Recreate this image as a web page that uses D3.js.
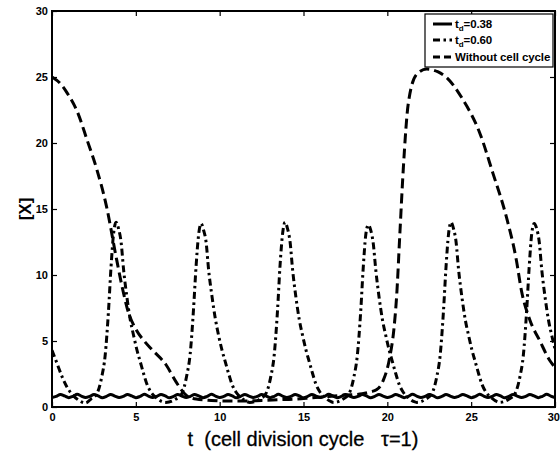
<!DOCTYPE html>
<html>
<head>
<meta charset="utf-8">
<script src="https://cdn.jsdelivr.net/npm/d3@7"></script>
<style>
  html, body { margin: 0; padding: 0; background: #fff; }
  svg { display: block; }
</style>
</head>
<body>
<svg id="chart" width="560" height="451"></svg>
<script>
// ---------------- data ----------------
const xTicks = [0, 5, 10, 15, 20, 25, 30];
const yTicks = [0, 5, 10, 15, 20, 25, 30];
const legendLabels = ["t_d=0.38", "t_d=0.60", "Without cell cycle"];

// t_d = 0.38 (solid), sampled every 0.25
const solidT = d3.range(0, 30.001, 0.25);
const solidV = [
  0.72,0.80,0.95,0.84, 0.71,0.81,0.96,0.83, 0.72,0.80,0.94,0.84, 0.70,0.81,0.95,0.83,
  0.72,0.80,0.95,0.84, 0.71,0.80,0.96,0.83, 0.72,0.81,0.95,0.84, 0.70,0.80,0.94,0.83,
  0.72,0.81,0.95,0.84, 0.71,0.80,0.96,0.83, 0.72,0.80,0.95,0.84, 0.70,0.81,0.95,0.83,
  0.72,0.80,0.94,0.84, 0.71,0.81,0.96,0.83, 0.72,0.80,0.95,0.84, 0.70,0.80,0.95,0.83,
  0.72,0.81,0.96,0.84, 0.71,0.80,0.95,0.83, 0.72,0.80,0.94,0.84, 0.70,0.81,0.95,0.83,
  0.72,0.80,0.95,0.84, 0.71,0.81,0.96,0.83, 0.72,0.80,0.95,0.84, 0.70,0.80,0.94,0.83,
  0.72,0.81,0.95,0.84, 0.71,0.80,0.96,0.83, 0.72,0.80,0.95,0.84, 0.70,0.81,0.95,0.83,
  0.72,0.80,0.95,0.84, 0.71,0.81,0.96,0.83, 0.72
];

// t_d = 0.60 (dash-dot)
const dashDotT = [
  0, 0.3, 0.6, 0.9, 1.2, 1.55, 2.0,
  2.32, 2.67, 2.97, 3.17, 3.37, 3.52, 3.67, 3.82, 3.97, 4.12, 4.27, 4.47, 4.67, 4.87, 5.07, 5.27, 5.47, 5.67, 5.92, 6.22, 6.57,
  6.79, 7.39, 7.74, 8.04, 8.24, 8.44, 8.59, 8.74, 8.89, 9.04, 9.19, 9.34, 9.54, 9.74, 9.94, 10.14, 10.34, 10.54, 10.74, 10.99, 11.29, 11.64,
  11.8, 12.4, 12.75, 13.05, 13.25, 13.45, 13.6, 13.75, 13.9, 14.05, 14.2, 14.35, 14.55, 14.75, 14.95, 15.15, 15.35, 15.55, 15.75, 16.0, 16.3, 16.65,
  16.8, 17.36, 17.71, 18.01, 18.21, 18.41, 18.56, 18.71, 18.86, 19.01, 19.16, 19.31, 19.51, 19.71, 19.91, 20.11, 20.31, 20.51, 20.71, 20.96, 21.26, 21.6,
  21.75, 22.3, 22.65, 22.95, 23.15, 23.35, 23.5, 23.65, 23.8, 23.95, 24.1, 24.25, 24.45, 24.65, 24.85, 25.05, 25.25, 25.45, 25.65, 25.9, 26.2, 26.55,
  26.7, 27.26, 27.61, 27.91, 28.11, 28.31, 28.46, 28.61, 28.76, 28.91, 29.06, 29.21, 29.41, 29.61, 29.81, 30.0
];
const dashDotV = [
  4.3, 3.3, 2.3, 1.5, 0.95, 0.55, 0.3,
  0.6, 1.0, 2.3, 3.9, 7.3, 10.6, 13.1, 14.0, 13.5, 12.5, 10.4, 8.3, 6.6, 5.4, 4.3, 3.4, 2.5, 1.7, 1.1, 0.7, 0.4,
  0.35, 0.6, 1.0, 2.4, 4.0, 7.4, 10.6, 13.0, 13.9, 13.4, 12.5, 10.4, 8.4, 6.7, 5.4, 4.3, 3.4, 2.5, 1.7, 1.1, 0.7, 0.4,
  0.35, 0.6, 1.0, 2.3, 3.9, 7.3, 10.7, 13.1, 14.0, 13.5, 12.5, 10.4, 8.3, 6.6, 5.4, 4.3, 3.4, 2.5, 1.7, 1.1, 0.7, 0.4,
  0.35, 0.6, 1.0, 2.3, 3.9, 7.2, 10.5, 13.0, 13.8, 13.4, 12.4, 10.4, 8.3, 6.6, 5.4, 4.3, 3.4, 2.5, 1.7, 1.1, 0.7, 0.4,
  0.35, 0.6, 1.0, 2.3, 3.9, 7.3, 10.6, 13.1, 14.0, 13.5, 12.5, 10.4, 8.3, 6.6, 5.4, 4.3, 3.4, 2.5, 1.7, 1.1, 0.7, 0.4,
  0.35, 0.6, 1.0, 2.3, 3.9, 7.3, 10.6, 13.1, 13.9, 13.5, 12.5, 10.4, 8.3, 6.6, 5.4, 4.4
];

// without cell cycle (dashed)
const dashedT = [
  0, 0.5, 0.9, 1.5, 2.1, 2.65, 3.25, 3.85, 4.2, 4.55, 5.0, 5.5, 6.0, 6.8, 7.4, 8.0, 8.6,
  9.5, 10.5, 11.5, 12.5, 13.5, 14.5, 15.5, 16.5, 17.5, 18.5, 19.0, 19.35, 19.75, 20.15, 20.4,
  20.55, 20.75, 20.95, 21.25, 21.75, 22.35, 23.0, 23.5, 24.5, 25.5, 26.3, 27.1, 27.7, 28.0,
  28.5, 29.1, 29.7, 30.0
];
const dashedV = [
  25.0, 24.5, 23.8, 22.4, 20.2, 18.1, 15.2, 11.2, 9.0, 7.2, 5.9, 5.0, 4.3, 3.2, 1.9, 0.9, 0.6,
  0.5, 0.45, 0.45, 0.5, 0.55, 0.6, 0.7, 0.8, 0.9, 1.0, 1.15, 1.3, 2.0, 3.8, 6.0,
  8.3, 13.2, 18.0, 23.0, 25.2, 25.6, 25.4, 25.0, 23.3, 20.8, 17.7, 14.4, 11.1, 8.8,
  6.6, 5.0, 3.5, 3.0
];

// ---------------- chart ----------------
const svg = d3.select("#chart");
const L = 52, R = 555, T = 11, B = 407;
const x = d3.scaleLinear().domain([0, 30]).range([L, R]);
const y = d3.scaleLinear().domain([0, 30]).range([B, T]);
const FONT = "'Liberation Sans', Arial, Helvetica, sans-serif";

svg.append("defs").append("clipPath").attr("id", "plotclip")
  .append("rect").attr("x", L).attr("y", T).attr("width", R - L).attr("height", B - T);

const toPts = (ts, vs) => ts.map((t, i) => [t, vs[i]]);

const plot = svg.append("g").attr("clip-path", "url(#plotclip)");

plot.append("path")
  .datum(toPts(solidT, solidV))
  .attr("fill", "none").attr("stroke", "#000").attr("stroke-width", 3)
  .attr("stroke-linejoin", "round")
  .attr("d", d3.line().x(d => x(d[0])).y(d => y(d[1])).curve(d3.curveCardinal));

plot.append("path")
  .datum(toPts(dashDotT, dashDotV))
  .attr("fill", "none").attr("stroke", "#000").attr("stroke-width", 3)
  .attr("stroke-dasharray", "7,3.5,2.5,3.5")
  .attr("d", d3.line().x(d => x(d[0])).y(d => y(d[1])).curve(d3.curveMonotoneX));

plot.append("path")
  .datum(toPts(dashedT, dashedV))
  .attr("fill", "none").attr("stroke", "#000").attr("stroke-width", 3)
  .attr("stroke-dasharray", "10,5")
  .attr("d", d3.line().x(d => x(d[0])).y(d => y(d[1])).curve(d3.curveMonotoneX));

// axes
const styleAxis = g => {
  g.select(".domain").remove();
  g.selectAll("line").attr("stroke", "#000").attr("stroke-width", 1.2);
  g.selectAll("text").attr("font-family", FONT).attr("font-weight", "bold")
    .attr("font-size", 11).attr("fill", "#000");
};
svg.append("g").attr("transform", `translate(0,${B})`)
  .call(d3.axisBottom(x).tickValues(xTicks).tickSizeInner(-5).tickSizeOuter(0).tickPadding(6))
  .call(styleAxis)
  .call(g => g.selectAll(".tick text").filter(d => d === 30).attr("text-anchor", "end").attr("dx", 4.5));
svg.append("g").attr("transform", `translate(0,${T})`)
  .call(d3.axisTop(x).tickValues(xTicks).tickSizeInner(-5).tickSizeOuter(0).tickFormat(""))
  .call(styleAxis);
svg.append("g").attr("transform", `translate(${L},0)`)
  .call(d3.axisLeft(y).tickValues(yTicks).tickSizeInner(-5).tickSizeOuter(0).tickPadding(4))
  .call(styleAxis);
svg.append("g").attr("transform", `translate(${R},0)`)
  .call(d3.axisRight(y).tickValues(yTicks).tickSizeInner(-5).tickSizeOuter(0).tickFormat(""))
  .call(styleAxis);

svg.append("rect").attr("x", L).attr("y", T).attr("width", R - L).attr("height", B - T)
  .attr("fill", "none").attr("stroke", "#000").attr("stroke-width", 2);

// axis labels
svg.append("text").attr("x", 303).attr("y", 446).attr("text-anchor", "middle")
  .attr("font-family", FONT).attr("font-size", 20).attr("fill", "#000")
  .attr("stroke", "#000").attr("stroke-width", 0.3)
  .attr("xml:space", "preserve")
  .text("t  (cell division cycle   \u03C4=1)");

svg.append("text").attr("transform", "translate(31,209) rotate(-90)")
  .attr("text-anchor", "middle").attr("font-family", FONT).attr("font-weight", "bold")
  .attr("font-size", 17).attr("fill", "#000").text("[X]");

// legend
const lx = 425, ly = 14, lw = 128, lh = 53;
svg.append("defs").append("clipPath").attr("id", "legclip")
  .append("rect").attr("x", lx).attr("y", ly).attr("width", lw - 2).attr("height", lh);
svg.append("rect").attr("x", lx).attr("y", ly).attr("width", lw).attr("height", lh)
  .attr("fill", "#fff").attr("stroke", "#000").attr("stroke-width", 1.2);
const leg = svg.append("g").attr("clip-path", "url(#legclip)");
const dashes = [null, "7,3.5,2.5,3.5", "7,4"];
const rows = [24, 40, 57];
legendLabels.forEach((lab, i) => {
  leg.append("line").attr("x1", 433).attr("x2", 452).attr("y1", rows[i]).attr("y2", rows[i])
    .attr("stroke", "#000").attr("stroke-width", 3)
    .attr("stroke-dasharray", dashes[i]);
  const t = leg.append("text").attr("x", 455).attr("y", rows[i] + 4)
    .attr("font-family", FONT).attr("font-weight", "bold").attr("font-size", 11.5)
    .attr("letter-spacing", -0.1)
    .attr("fill", "#000");
  if (lab.startsWith("t_d")) {
    t.append("tspan").text("t");
    t.append("tspan").attr("dy", 3).attr("font-size", 8).text("d");
    t.append("tspan").attr("dy", -3).text(lab.slice(3));
  } else {
    t.text(lab);
  }
});
</script>
</body>
</html>
